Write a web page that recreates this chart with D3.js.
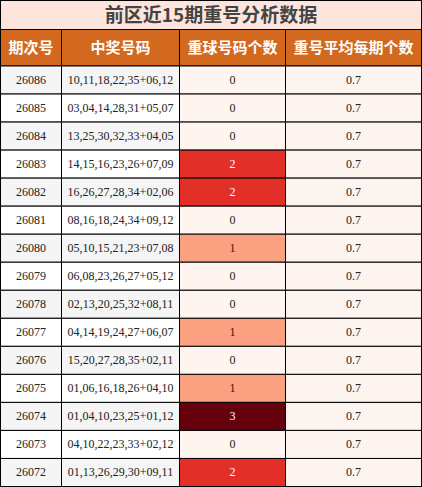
<!DOCTYPE html>
<html><head><meta charset="utf-8">
<script src="https://cdn.jsdelivr.net/npm/d3@7"></script>
<style>body{margin:0;background:#fff}</style>
</head><body>
<svg id="chart" width="422" height="487"></svg>
<script>
var title = "前区近15期重号分析数据";
var headers = ["期次号", "中奖号码", "重球号码个数", "重号平均每期个数"];
var periods = ["26086","26085","26084","26083","26082","26081","26080","26079","26078","26077","26076","26075","26074","26073","26072"];
var numbers = ["10,11,18,22,35+06,12","03,04,14,28,31+05,07","13,25,30,32,33+04,05","14,15,16,23,26+07,09","16,26,27,28,34+02,06","08,16,18,24,34+09,12","05,10,15,21,23+07,08","06,08,23,26,27+05,12","02,13,20,25,32+08,11","04,14,19,24,27+06,07","15,20,27,28,35+02,11","01,06,16,18,26+04,10","01,04,10,23,25+01,12","04,10,22,23,33+02,12","01,13,26,29,30+09,11"];
var repeats = [0,0,0,2,2,0,1,0,0,1,0,1,3,0,2];
var avg = [0.7,0.7,0.7,0.7,0.7,0.7,0.7,0.7,0.7,0.7,0.7,0.7,0.7,0.7,0.7];

var svg = d3.select("#chart");
var colX = [0.5, 61.5, 179.5, 285.5, 421.5];
var titleH = 29, headH = 37, top0 = 66;
var y = d3.scaleBand().domain(d3.range(periods.length)).range([top0, 486.5]);
var color = d3.scaleSequential(d3.interpolateReds).domain([0, 3]);

//titulo
svg.append("rect").attr("x",0.5).attr("y",0.5).attr("width",421).attr("height",titleH)
  .attr("fill","#fde5de").attr("stroke","#000");
svg.append("text").attr("x",211).attr("y",22).attr("text-anchor","middle")
  .attr("font-family","'Noto Sans CJK SC'")
  .attr("font-weight","bold").attr("font-size",19).attr("fill","#444").text(title);

//cabecalho
headers.forEach(function(h, i){
  svg.append("rect").attr("x",colX[i]).attr("y",titleH+0.5).attr("width",colX[i+1]-colX[i]).attr("height",headH-0.5)
    .attr("fill","#d2691e").attr("stroke","#000");
  svg.append("text").attr("x",(colX[i]+colX[i+1])/2).attr("y",titleH+headH/2+1)
    .attr("text-anchor","middle").attr("dominant-baseline","middle")
    .attr("font-family","'Noto Sans CJK SC'").attr("font-weight","bold").attr("font-size",15)
    .attr("fill","#fff").text(h);
});

var rows = svg.selectAll("g.row").data(periods).enter().append("g").attr("class","row")
  .attr("transform", function(d,i){return "translate(0," + y(i) + ")";});

rows.each(function(d, i){
  var g = d3.select(this);
  var base = i % 2 == 0 ? "#f5f5f5" : "#fff";
  var cells = [
    {t: d, fill: base, tc: "#222"},
    {t: numbers[i], fill: base, tc: "#222"},
    {t: repeats[i], fill: color(repeats[i]), tc: repeats[i] >= 2 ? "#fff" : "#222"},
    {t: avg[i], fill: "#fdf3ef", tc: "#222"}
  ];
  cells.forEach(function(c, j){
    g.append("rect").attr("x",colX[j]).attr("y",0).attr("width",colX[j+1]-colX[j]).attr("height",y.bandwidth())
      .attr("fill",c.fill).attr("stroke","#000");
    g.append("text").attr("x",(colX[j]+colX[j+1])/2).attr("y",y.bandwidth()/2+1)
      .attr("text-anchor","middle").attr("dominant-baseline","middle")
      .attr("font-family","'Liberation Serif'").attr("font-size",12).attr("fill",c.tc).text(c.t);
  });
});
</script>
</body></html>
